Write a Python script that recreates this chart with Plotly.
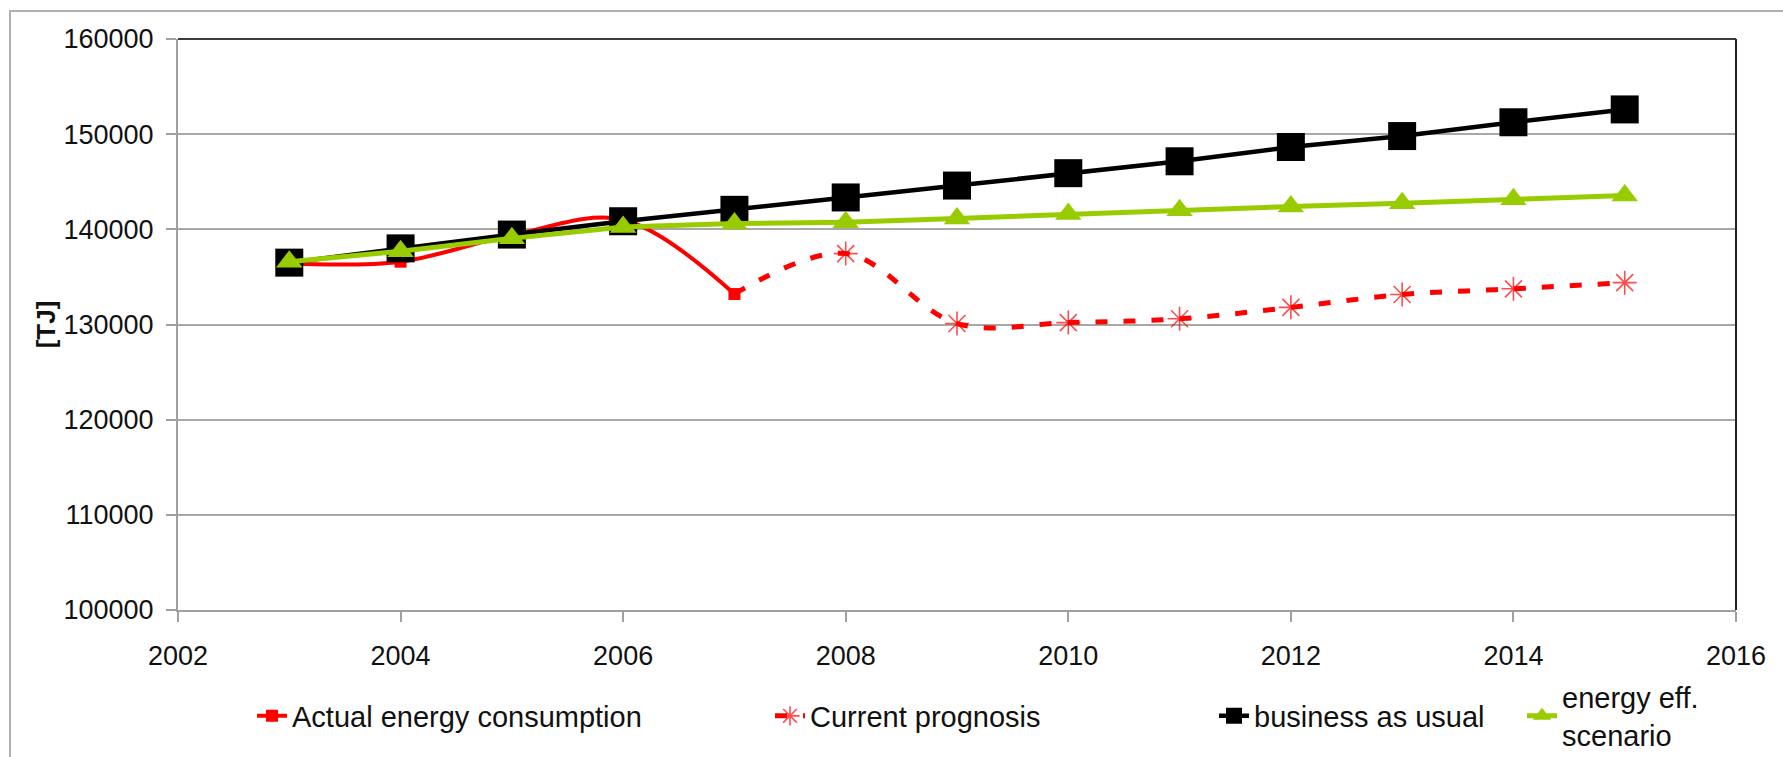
import plotly.graph_objects as go

# ---- data ----
years = [2003, 2004, 2005, 2006, 2007, 2008, 2009, 2010, 2011, 2012, 2013, 2014, 2015]
actual_years = [2003, 2004, 2005, 2006, 2007]
actual_values = [136400, 136600, 139400, 141000, 133200]
prognosis_years = [2007, 2008, 2009, 2010, 2011, 2012, 2013, 2014, 2015]
prognosis_values = [133200, 137450, 130100, 130200, 130600, 131800, 133150, 133750, 134400]
bau_values = [136500, 138000, 139450, 140850, 142050, 143350, 144600, 145900, 147150, 148650, 149800, 151250, 152600]
eff_values = [136600, 137700, 139050, 140250, 140600, 140750, 141150, 141600, 142000, 142400, 142750, 143150, 143550]

x_ticks = [2002, 2004, 2006, 2008, 2010, 2012, 2014, 2016]
y_ticks = [100000, 110000, 120000, 130000, 140000, 150000, 160000]

FONT = "Tahoma, 'Liberation Sans', Arial, sans-serif"
W, H = 1783, 757
ML, MR, MT, MB = 178, 47, 39, 147
PW = W - ML - MR
PH = H - MT - MB


def px_x(p):
    return (p - ML) / PW


def px_y(p):
    return (H - MB - p) / PH


fig = go.Figure()

fig.add_trace(go.Scatter(
    x=actual_years, y=actual_values, name="Actual energy consumption",
    mode="lines+markers", line=dict(color="#ff0000", width=4, shape="spline"),
    marker=dict(symbol="square", size=12, color="#ff0000"), legend="legend", showlegend=True))

fig.add_trace(go.Scatter(
    x=prognosis_years, y=prognosis_values, name="Current prognosis",
    mode="lines+markers", line=dict(color="#ff0000", width=5, shape="spline", dash="12px,16px"),
    marker=dict(symbol="asterisk-open", size=[0] + [20] * (len(prognosis_years) - 1),
                line=dict(color="#ff0000", width=1.6)), legend="legend2"))

fig.add_trace(go.Scatter(
    x=years, y=bau_values, name="business as usual",
    mode="lines+markers", line=dict(color="#000000", width=4.5),
    marker=dict(symbol="square", size=28, color="#000000"), legend="legend3"))

fig.add_trace(go.Scatter(
    x=years, y=eff_values, name="energy eff.<br>scenario",
    mode="lines+markers", line=dict(color="#99cc00", width=5),
    marker=dict(symbol="triangle-up", size=23, color="#99cc00"), legend="legend4"))

legend_common = dict(orientation="h", yanchor="middle", y=px_y(716), xanchor="left",
                     font=dict(family=FONT, size=29, color="#111111"),
                     bgcolor="rgba(0,0,0,0)", borderwidth=0)

fig.update_layout(
    width=W, height=H,
    showlegend=True,
    margin=dict(l=ML, r=MR, t=MT, b=MB, autoexpand=False),
    paper_bgcolor="white", plot_bgcolor="white",
    font=dict(family=FONT, color="#111111"),
    legend=dict(x=px_x(252), **legend_common),
    legend2=dict(x=px_x(770), **legend_common),
    legend3=dict(x=px_x(1214), **legend_common),
    legend4=dict(x=px_x(1522), **legend_common),
    xaxis=dict(range=[2002, 2016], tickvals=x_ticks, ticktext=[str(v) for v in x_ticks],
               showgrid=False, zeroline=False, showline=True, linecolor="#a0a0a0", linewidth=2,
               ticks="outside", ticklen=10, tickwidth=2, tickcolor="#a0a0a0",
               tickfont=dict(family=FONT, size=27, color="#111111"), ticklabelstandoff=11),
    yaxis=dict(range=[100000, 160000], tickvals=y_ticks, ticktext=[str(v) for v in y_ticks],
               showgrid=True, gridcolor="#a8a8a8", gridwidth=2, zeroline=False,
               showline=True, linecolor="#a0a0a0", linewidth=2,
               ticks="outside", ticklen=10, tickwidth=2, tickcolor="#a0a0a0",
               tickfont=dict(family=FONT, size=27, color="#111111"), ticklabelstandoff=7,
               title=dict(text="[TJ]", font=dict(family=FONT, size=26, color="#111111", weight="bold"),
                          standoff=0)),
    shapes=[
        # outer chart frame
        dict(type="rect", xref="paper", yref="paper", x0=px_x(10), x1=px_x(1830),
             y0=px_y(800), y1=px_y(11), line=dict(color="#b0b0b0", width=2), layer="below"),
        # plot area top and right border
        dict(type="line", xref="paper", yref="paper", x0=0, x1=1, y0=1, y1=1,
             line=dict(color="#3c3c3c", width=2), layer="above"),
        dict(type="line", xref="paper", yref="paper", x0=1, x1=1, y0=0, y1=1,
             line=dict(color="#222222", width=2), layer="above"),
    ],
)

fig.write_html("out.html", config={"displayModeBar": False},
               post_script="document.body.style.margin='0';")
